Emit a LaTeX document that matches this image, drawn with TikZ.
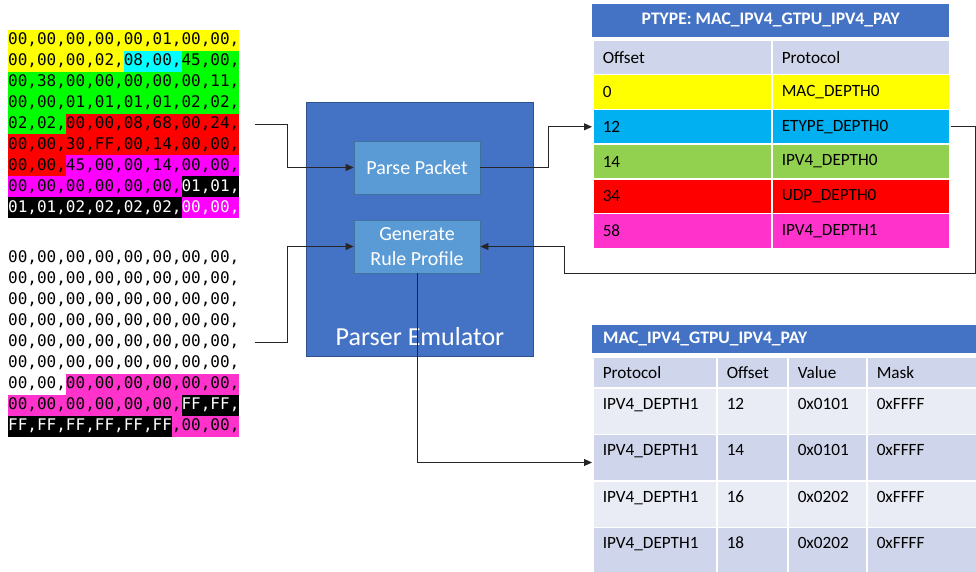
\documentclass[tikz,border=0pt]{standalone}
\usepackage{fontspec}
\setmainfont{Carlito}
\newfontfamily\hexfont{DejaVu Sans Mono}
\usetikzlibrary{arrows.meta}
\definecolor{hexyellow}{RGB}{255,255,0}
\definecolor{hexcyan}{RGB}{0,255,255}
\definecolor{hexgreen}{RGB}{0,255,0}
\definecolor{hexred}{RGB}{255,0,0}
\definecolor{hexmagenta}{RGB}{255,0,255}
\definecolor{hexpink}{RGB}{255,51,204}
\definecolor{emublue}{RGB}{68,114,196}
\definecolor{emuborder}{RGB}{47,82,143}
\definecolor{procblue}{RGB}{91,155,213}
\definecolor{procborder}{RGB}{65,113,156}
\definecolor{tablehead}{RGB}{207,213,234}
\definecolor{tablelight}{RGB}{233,235,245}
\definecolor{rowcyan}{RGB}{0,176,240}
\definecolor{rowgreen}{RGB}{146,208,80}
\definecolor{linegray}{RGB}{38,38,38}

\begin{document}
\begin{tikzpicture}[x=1pt,y=-1pt,
    hexseg/.style={anchor=west, inner sep=0pt, minimum height=20.9pt,
        text height=11.7pt, text depth=2.6pt,
        font=\hexfont\fontsize{16}{19}\selectfont},
    emubox/.style={fill=emublue, draw=emuborder, line width=1pt,
        minimum width=227pt, minimum height=253pt},
    procbox/.style={fill=procblue, draw=procborder, line width=0.8pt,
        minimum width=126pt, minimum height=53pt, text=white,
        font=\fontsize{20}{25}\selectfont},
    tcell/.style={anchor=north west, draw=white, line width=1.5pt,
        inner xsep=10pt, inner ysep=0pt, minimum height=34.7pt, align=left,
        font=\fontsize{17.2}{20}\selectfont},
    rcell/.style={tcell, text height=21.5pt, text depth=25pt},
    ttitle/.style={anchor=north west, fill=emublue, text=white, inner sep=0pt,
        font=\bfseries\fontsize{17.6}{20}\selectfont},
    conn/.style={draw=linegray, line width=0.8pt,
        -{Triangle[length=8pt,width=7pt]}}]

    \useasboundingbox (0,0) rectangle (976,572);
    \clip (0,0) rectangle (976,572);

    % Paquete (bloque superior)
    \foreach \r/\s/\bg/\fg/\txt in {
        1/0/hexyellow/black/{00,00,00,00,00,01,00,00,},
        2/0/hexyellow/black/{00,00,00,02,},
        2/12/hexcyan/black/{08,00,},
        2/18/hexgreen/black/{45,00,},
        3/0/hexgreen/black/{00,38,00,00,00,00,00,11,},
        4/0/hexgreen/black/{00,00,01,01,01,01,02,02,},
        5/0/hexgreen/black/{02,02,},
        5/6/hexred/black/{00,00,08,68,00,24,},
        6/0/hexred/black/{00,00,30,FF,00,14,00,00,},
        7/0/hexred/black/{00,00,},
        7/6/hexmagenta/black/{45,00,00,14,00,00,},
        8/0/hexmagenta/black/{00,00,00,00,00,00,},
        8/18/black/white/{01,01,},
        9/0/black/white/{01,01,02,02,02,02,},
        9/18/hexmagenta/white/{00,00,}} {
        \node[hexseg, fill=\bg, text=\fg] (h1-\r-\s) at ({8+\s*9.633},{30+(\r-0.5)*20.9}) {\txt};
    }

    % Máscara (bloque inferior)
    \foreach \r/\s/\bg/\fg/\txt in {
        1/0/none/black/{00,00,00,00,00,00,00,00,},
        2/0/none/black/{00,00,00,00,00,00,00,00,},
        3/0/none/black/{00,00,00,00,00,00,00,00,},
        4/0/none/black/{00,00,00,00,00,00,00,00,},
        5/0/none/black/{00,00,00,00,00,00,00,00,},
        6/0/none/black/{00,00,00,00,00,00,00,00,},
        7/0/none/black/{00,00,},
        7/6/hexpink/black/{00,00,00,00,00,00,},
        8/0/hexpink/black/{00,00,00,00,00,00,},
        8/18/black/white/{FF,FF,},
        9/0/black/white/{FF,FF,FF,FF,FF,FF},
        9/17/hexpink/black/{,00,00,}} {
        \node[hexseg, fill=\bg, text=\fg] (h2-\r-\s) at ({8+\s*9.633},{247+(\r-0.5)*21.1}) {\txt};
    }

    % Emulador
    \node[emubox] (emu) at (419.5,229.5) {};
    \node[text=white, font=\fontsize{26}{30}\selectfont] (emulabel) at (420,337) {Parser Emulator};
    \node[procbox] (pp) at (417,167.5) {Parse Packet};
    \node[procbox, align=center] (gen) at (417,246.5) {Generate\\Rule Profile};

    % Tabla PTYPE
    \node[ttitle, minimum width=357pt, minimum height=33pt] (ptype) at (592,3.5) {PTYPE: MAC\_IPV4\_GTPU\_IPV4\_PAY};
    \node[tcell, fill=tablehead, text width=159pt] (tah) at (592,39.5) {Offset};
    \node[tcell, fill=tablehead, text width=158pt] (tbh) at (771,39.5) {Protocol};
    \foreach \i/\off/\prot/\bg in {1/0/MAC\_DEPTH0/hexyellow, 2/12/ETYPE\_DEPTH0/rowcyan,
        3/14/IPV4\_DEPTH0/rowgreen, 4/34/UDP\_DEPTH0/hexred, 5/58/IPV4\_DEPTH1/hexpink} {
        \node[tcell, fill=\bg, text width=159pt] (ta\i) at (592,{74+(\i-1)*34.7}) {\off};
        \node[tcell, fill=\bg, text width=158pt] (tb\i) at (771,{74+(\i-1)*34.7}) {\prot};
    }

    % Tabla de reglas
    \node[ttitle, minimum width=400pt, minimum height=28pt, inner xsep=11pt,
        text width=378pt, align=left] (rtitle) at (592,325) {MAC\_IPV4\_GTPU\_IPV4\_PAY};
    \foreach \c/\x/\w/\txt in {a/592/124/Protocol, b/716/71/Offset, c/787/79/Value, d/866/124/Mask} {
        \pgfmathsetmacro\tw{\w-20}
        \node[tcell, fill=tablehead, text width=\tw pt, minimum height=30.5pt] (rh\c) at (\x,356.5) {\txt};
    }
    \foreach \i/\off/\val/\bg in {1/12/0x0101/tablelight, 2/14/0x0101/tablehead,
        3/16/0x0202/tablelight, 4/18/0x0202/tablehead} {
        \node[rcell, fill=\bg, text width=104pt] (r\i a) at (592,{387+(\i-1)*46.5}) {IPV4\_DEPTH1};
        \node[rcell, fill=\bg, text width=51pt] (r\i b) at (716,{387+(\i-1)*46.5}) {\off};
        \node[rcell, fill=\bg, text width=59pt] (r\i c) at (787,{387+(\i-1)*46.5}) {\val};
        \node[rcell, fill=\bg, text width=104pt] (r\i d) at (866,{387+(\i-1)*46.5}) {0xFFFF};
    }

    % Conectores
    \coordinate (rc1) at (975,273);
    \coordinate (rc2) at (564,273);
    \draw[conn] ([xshift=15pt]h1-5-6.east) -- ++(33,0) |- (pp.west);
    \draw[conn] ([xshift=15pt]h2-5-0.east) -- ++(33,0) |- (gen.west);
    \draw[conn] (pp.east) -- ++(68,0) |- (ta2.west);
    \draw[conn] (tb2.east) -| (rc1) -- (rc2) |- (gen.east);
    \draw[conn] (gen.south) |- ([yshift=-5pt]r2a.west);
\end{tikzpicture}
\end{document}
